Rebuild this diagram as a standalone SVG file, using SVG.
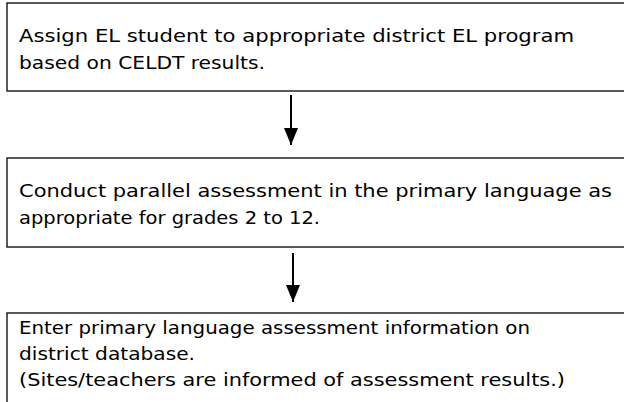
<svg xmlns="http://www.w3.org/2000/svg" width="624" height="402" viewBox="0 0 624 402">
  <defs>
    <marker id="head" markerWidth="17" markerHeight="14" refX="17" refY="7" orient="auto" markerUnits="userSpaceOnUse" viewBox="0 0 17 14">
      <path d="M0,0 L17,7 L0,14 Z" fill="#000"/>
    </marker>
    <style>
      .box { fill: #fff; stroke: #000; stroke-width: 1.3; }
      .label { font-family: "DejaVu Sans Condensed", "DejaVu Sans", sans-serif; font-size: 18px; fill: #000; }
      .conn { stroke: #000; stroke-width: 2; fill: none; }
    </style>
  </defs>
  <rect width="624" height="402" fill="#fff"/>

  <g id="step-assign">
    <rect class="box" x="7" y="3" width="630" height="88"/>
    <text class="label" x="19" y="42" textLength="555" lengthAdjust="spacingAndGlyphs">Assign EL student to appropriate district EL program</text>
    <text class="label" x="19" y="69" textLength="246" lengthAdjust="spacingAndGlyphs">based on CELDT results.</text>
  </g>

  <g id="step-assess">
    <rect class="box" x="7" y="158" width="630" height="89"/>
    <text class="label" x="19" y="197" textLength="593" lengthAdjust="spacingAndGlyphs">Conduct parallel assessment in the primary language as</text>
    <text class="label" x="19" y="224" textLength="301" lengthAdjust="spacingAndGlyphs">appropriate for grades 2 to 12.</text>
  </g>

  <g id="step-enter">
    <rect class="box" x="7" y="313" width="630" height="100"/>
    <text class="label" x="19" y="334" textLength="511" lengthAdjust="spacingAndGlyphs">Enter primary language assessment information on</text>
    <text class="label" x="19" y="360" textLength="176" lengthAdjust="spacingAndGlyphs">district database.</text>
    <text class="label" x="19" y="386" textLength="546" lengthAdjust="spacingAndGlyphs">(Sites/teachers are informed of assessment results.)</text>
  </g>

  <g id="connectors">
    <line class="conn" x1="291" y1="95" x2="291" y2="145" marker-end="url(#head)"/>
    <line class="conn" x1="293" y1="253" x2="293" y2="302" marker-end="url(#head)"/>
  </g>
</svg>
